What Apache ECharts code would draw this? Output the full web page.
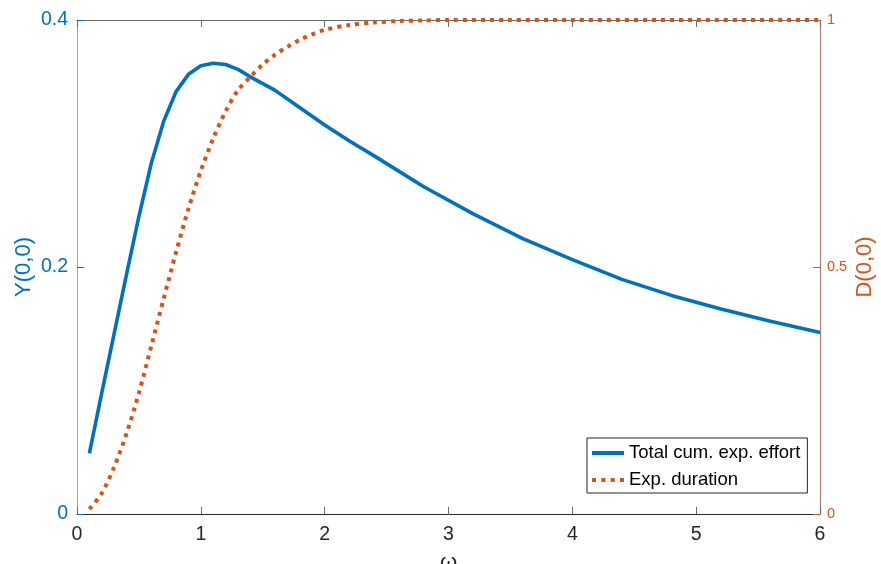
<!DOCTYPE html>
<html>
<head>
<meta charset="utf-8">
<script src="https://cdn.jsdelivr.net/npm/echarts@6/dist/echarts.min.js"></script>
<style>
  html, body { margin: 0; padding: 0; background: #fff; }
  #chart { width: 881px; height: 564px; }
</style>
</head>
<body>
<div id="chart"></div>
<script>
// Total cumulative expected effort Y(0,0) against omega
const omegaEffort = [0.1, 0.2, 0.3, 0.4, 0.5, 0.6, 0.7, 0.8, 0.9, 1.0, 1.1, 1.2, 1.3, 1.4, 1.6, 1.8, 2.0, 2.2, 2.4, 2.8, 3.2, 3.6, 4.0, 4.4, 4.8, 5.2, 5.6, 6.0];
const effort      = [0.049, 0.098, 0.146, 0.194, 0.241, 0.284, 0.318, 0.342, 0.356, 0.363, 0.365, 0.364, 0.360, 0.354, 0.343, 0.329, 0.315, 0.302, 0.290, 0.265, 0.243, 0.223, 0.206, 0.190, 0.177, 0.166, 0.156, 0.147];

// Expected duration D(0,0) against omega
const omegaDuration = [0.1, 0.2, 0.3, 0.4, 0.5, 0.6, 0.7, 0.8, 0.9, 1.0, 1.1, 1.2, 1.3, 1.4, 1.5, 1.6, 1.7, 1.8, 1.9, 2.0, 2.2, 2.4, 2.6, 2.8, 3.0, 3.5, 4.0, 5.0, 6.0];
const duration      = [0.010, 0.042, 0.095, 0.163, 0.245, 0.340, 0.436, 0.530, 0.618, 0.695, 0.760, 0.815, 0.858, 0.885, 0.910, 0.930, 0.946, 0.960, 0.971, 0.980, 0.990, 0.995, 0.998, 0.999, 1.0, 1.0, 1.0, 1.0, 1.0];

const xTicks = [0, 1, 2, 3, 4, 5, 6];
const leftTicks = [0, 0.2, 0.4];
const rightTicks = [0, 0.5, 1];

const BLUE = '#0072BD';
const ORANGE = '#D95319';
const INK = '#262626';
const FONT = 'Liberation Sans, Arial, Helvetica, sans-serif';

const pairs = (xs, ys) => xs.map((x, i) => [x, ys[i]]);

const chart = echarts.init(document.getElementById('chart'), null, { renderer: 'canvas' });

chart.setOption({
  animation: false,
  backgroundColor: '#ffffff',
  grid: { left: 77, right: 61, top: 20, bottom: 50, containLabel: false, outerBoundsMode: 'none' },
  xAxis: [
    {
      type: 'value', min: 0, max: 6, interval: 1, position: 'bottom',
      name: 'ω', nameLocation: 'middle', nameGap: 38, nameMoveOverlap: false,
      nameTextStyle: { color: INK, fontFamily: FONT, fontSize: 22 },
      axisLine: { onZero: false, lineStyle: { color: INK, width: 1 } },
      axisTick: { inside: true, length: 7, lineStyle: { color: '#6b6b6b' } },
      axisLabel: { color: INK, fontFamily: FONT, fontSize: 19.5, margin: 11,
                   formatter: v => xTicks.includes(v) ? String(v) : '' },
      splitLine: { show: false }
    },
    {
      type: 'value', min: 0, max: 6, interval: 1, position: 'top',
      axisLine: { onZero: false, lineStyle: { color: '#6b6b6b', width: 1 } },
      axisTick: { inside: true, length: 7, lineStyle: { color: '#6b6b6b' } },
      axisLabel: { show: false },
      splitLine: { show: false }
    }
  ],
  yAxis: [
    {
      type: 'value', min: 0, max: 0.4, interval: 0.2, position: 'left',
      name: 'Y(0,0)', nameLocation: 'middle', nameGap: 42, nameMoveOverlap: false,
      nameTextStyle: { color: BLUE, fontFamily: FONT, fontSize: 22 },
      axisLine: { show: true, onZero: false, lineStyle: { color: '#78b2df', width: 1 } },
      axisTick: { show: true, inside: true, length: 7, lineStyle: { color: BLUE } },
      axisLabel: { color: BLUE, fontFamily: FONT, fontSize: 19.5, margin: 9,
                   formatter: v => leftTicks.some(t => Math.abs(t - v) < 1e-9) ? String(+v.toFixed(1)) : '' },
      splitLine: { show: false }
    },
    {
      type: 'value', min: 0, max: 1, interval: 0.5, position: 'right',
      name: 'D(0,0)', nameLocation: 'middle', nameGap: 34, nameMoveOverlap: false,
      nameTextStyle: { color: ORANGE, fontFamily: FONT, fontSize: 22 },
      axisLine: { show: true, onZero: false, lineStyle: { color: '#b07f6e', width: 1.2 } },
      axisTick: { show: true, inside: true, length: 7, lineStyle: { color: ORANGE } },
      axisLabel: { color: ORANGE, fontFamily: FONT, fontSize: 14.5, margin: 7,
                   formatter: v => rightTicks.some(t => Math.abs(t - v) < 1e-9) ? String(v) : '' },
      splitLine: { show: false }
    }
  ],
  legend: {
    orient: 'vertical',
    left: 587, top: 438,
    backgroundColor: '#ffffff',
    borderColor: INK, borderWidth: 1, borderRadius: 0,
    padding: [4, 7, 2, 5],
    itemWidth: 32, itemHeight: 4, itemGap: 5,
    textStyle: { color: '#000', fontFamily: FONT, fontSize: 18.5, lineHeight: 22 },
    data: [
      { name: 'Total cum. exp. effort', icon: 'path://M0,0 L32,0 L32,4 L0,4 Z', itemStyle: { color: BLUE } },
      { name: 'Exp. duration', icon: 'path://M0,0 L4,0 L4,4 L0,4 Z M9.3,0 L13.3,0 L13.3,4 L9.3,4 Z M18.7,0 L22.7,0 L22.7,4 L18.7,4 Z M28,0 L32,0 L32,4 L28,4 Z', itemStyle: { color: ORANGE } }
    ]
  },
  series: [
    {
      name: 'Total cum. exp. effort',
      type: 'line', xAxisIndex: 0, yAxisIndex: 0,
      data: pairs(omegaEffort, effort),
      showSymbol: false, symbol: 'none', smooth: false,
      lineStyle: { color: BLUE, width: 3.6, join: 'round' },
      itemStyle: { color: BLUE },
      z: 3
    },
    {
      name: 'Exp. duration',
      type: 'line', xAxisIndex: 0, yAxisIndex: 1,
      data: pairs(omegaDuration, duration),
      showSymbol: false, symbol: 'none', smooth: 0.3,
      lineStyle: { color: ORANGE, width: 4, type: [4, 5], cap: 'butt' },
      itemStyle: { color: ORANGE },
      z: 2
    }
  ]
});
</script>
</body>
</html>
